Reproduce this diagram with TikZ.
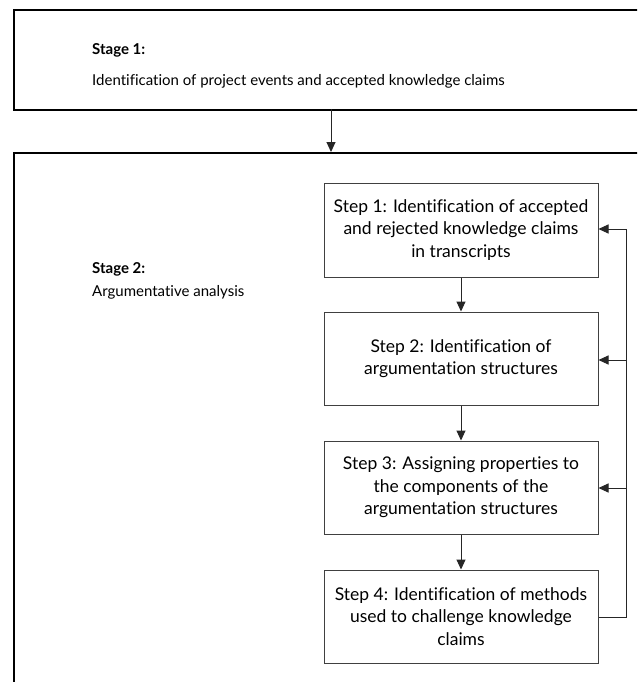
\documentclass[tikz,border=0pt]{standalone}
\usepackage{fontspec}
\setmainfont{Lato}[Ligatures={NoCommon,NoRare}]
\usetikzlibrary{arrows.meta,positioning}
\begin{document}
\begin{tikzpicture}[x=1pt,y=-1pt,
  stagebox/.style={draw=black,line width=2.2pt,anchor=north west,minimum width=700pt,inner sep=0pt},
  stepbox/.style={draw=black!75,line width=1pt,minimum width=274pt,minimum height=94pt,inner sep=2pt,
    align=center,font=\fontsize{17.5}{22.5}\selectfont},
  stagetext/.style={anchor=base west,inner sep=0pt,font=\fontsize{15}{18}\selectfont},
  flow/.style={draw=black!85,line width=1pt,-{Triangle[length=10pt,width=9pt]}},
  loop/.style={draw=black!85,line width=1pt}]
\clip (0,0) rectangle (637,682);
\fill[white] (0,0) rectangle (637,682);

% outer stage frames
\node[stagebox,minimum height=100pt] (stage1) at (13,9) {};
\node[stagebox,minimum height=540pt] (stage2) at (13,152) {};

% stage captions
\node[stagetext] (s1title) at (92,55) {\textbf{Stage 1:}};
\node[stagetext] (s1desc) at (92,86) {Identification of project events and accepted knowledge claims};
\node[stagetext] (s2title) at (92,273) {\textbf{Stage 2:}};
\node[stagetext] (s2desc) at (92,296) {Argumentative analysis};

% analysis steps
\node[stepbox] (st1) at (461,230) {Step 1: Identification of accepted\\and rejected knowledge claims\\in transcripts};
\node[stepbox,minimum height=93pt] (st2) at (461,358.5) {Step 2: Identification of\\argumentation structures};
\node[stepbox,minimum height=93pt] (st3) at (461,487.5) {Step 3: Assigning properties to\\the components of the\\argumentation structures};
\node[stepbox,minimum height=93pt] (st4) at (461,616.5) {Step 4: Identification of methods\\used to challenge knowledge\\claims};

% stage-to-stage arrow
\coordinate (a1) at (331,109);
\coordinate (a2) at (331,152);
\draw[flow] (a1) -- (a2);

% step sequence
\draw[flow] (st1) -- (st2);
\draw[flow] (st2) -- (st3);
\draw[flow] (st3) -- (st4);

% feedback loop on the right
\coordinate (rb) at (626,617);
\coordinate (rt) at (626,229);
\draw[loop] (st4.east |- rb) -- (rb) -- (rt);
\draw[flow] (rt) -- (st1.east |- rt);
\draw[flow] (626,360) -- (st2.east |- 0,360);
\draw[flow] (626,488) -- (st3.east |- 0,488);
\end{tikzpicture}
\end{document}
